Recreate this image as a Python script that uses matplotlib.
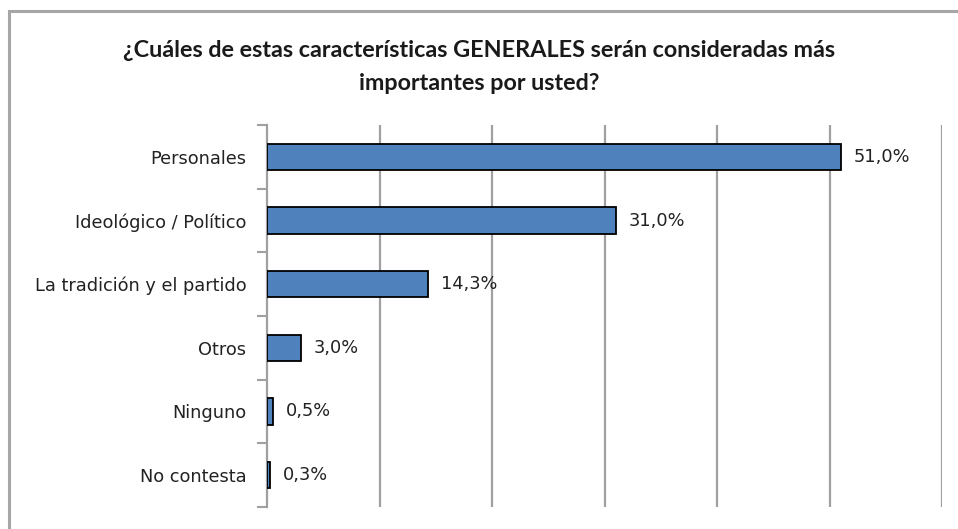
import matplotlib
matplotlib.use("Agg")
import matplotlib.pyplot as plt
from matplotlib.patches import Rectangle

categories = ["Personales", "Ideológico / Político", "La tradición y el partido",
              "Otros", "Ninguno", "No contesta"]
values = [51.0, 31.0, 14.3, 3.0, 0.5, 0.3]
labels = ["51,0%", "31,0%", "14,3%", "3,0%", "0,5%", "0,3%"]
title = "¿Cuáles de estas características GENERALES serán consideradas más\nimportantes por usted?"

W, H = 958, 529
fig = plt.figure(figsize=(W/100, H/100), dpi=100)
fig.patch.set_facecolor("white")

# outer border
fig.patches.append(Rectangle((9/W, -0.1), 1.2, (H-11)/H + 0.1, transform=fig.transFigure,
                             fill=False, edgecolor="#a6a6a6", linewidth=2.2))

ax = fig.add_axes([267/W, 22/H, (942-267)/W, (507-125)/H])
ypos = list(range(len(categories)))
ax.barh(ypos, values, height=0.41, color="#4F81BD", edgecolor="black", linewidth=1.3, zorder=3)
ax.set_xlim(0, 60)
ax.set_ylim(len(categories)-0.5, -0.5)

for y, v, lab in zip(ypos, values, labels):
    ax.annotate(lab, (v, y), xytext=(13, 0), textcoords="offset pixels",
                va="center", ha="left", fontsize=12.8, family="DejaVu Sans", color="#222222")

ax.set_xticks([10, 20, 30, 40, 50, 60])
ax.tick_params(axis="x", length=0, labelbottom=False)
ax.grid(axis="x", color="#a0a0a0", linewidth=1.6, zorder=0)

ax.set_yticks(ypos)
ax.set_yticklabels(categories, fontsize=12.8, family="DejaVu Sans", color="#222222")
ax.tick_params(axis="y", which="major", length=0, pad=15)
ax.set_yticks([i - 0.5 for i in range(len(categories)+1)], minor=True)
ax.tick_params(axis="y", which="minor", length=7, width=1.5, color="#a0a0a0")

for s in ["top", "right", "bottom"]:
    ax.spines[s].set_visible(False)
ax.spines["left"].set_color("#a0a0a0")
ax.spines["left"].set_linewidth(1.6)

fig.text(0.5, 1 - 67/H, title, ha="center", va="center", fontsize=16.8, fontweight="bold",
         family="Lato", linespacing=1.68, color="#1a1a1a")

fig.savefig("out.png", dpi=100)
